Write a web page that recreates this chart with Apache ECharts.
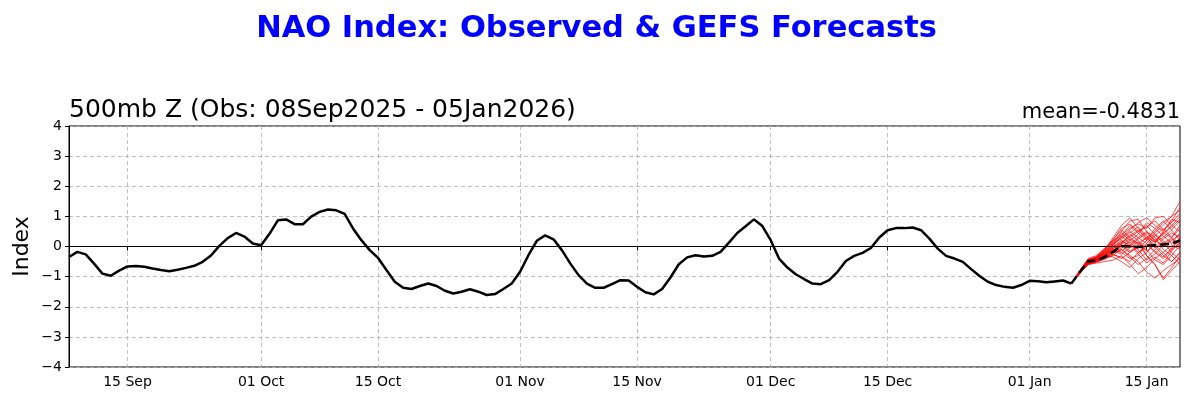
<!DOCTYPE html>
<html lang="en">
<head>
    <meta charset="UTF-8">
    <title>NAO Index</title>
    <script src="https://cdn.jsdelivr.net/npm/echarts@6/dist/echarts.min.js"></script>
    <style>
        html, body { margin: 0; padding: 0; background: #fff; }
        #chart { width: 1193px; height: 408px; }
    </style>
</head>
<body>
<div id="chart"></div>
<script>
    // day 0 = 08 Sep 2025, one value per day
    var obsStart = 0;
    var obsValues = [
        -0.35, -0.18, -0.26, -0.57, -0.90, -0.97, -0.80, -0.66, -0.65, -0.67,
        -0.73, -0.78, -0.82, -0.77, -0.71, -0.64, -0.51, -0.30, 0.02, 0.28,
        0.45, 0.33, 0.10, 0.04, 0.42, 0.87, 0.90, 0.74, 0.74, 0.99,
        1.15, 1.23, 1.20, 1.08, 0.60, 0.21, -0.12, -0.38, -0.78, -1.17,
        -1.37, -1.41, -1.31, -1.23, -1.31, -1.47, -1.56, -1.50, -1.42, -1.50,
        -1.61, -1.58, -1.41, -1.23, -0.84, -0.29, 0.19, 0.37, 0.24, -0.12,
        -0.56, -0.95, -1.23, -1.37, -1.37, -1.25, -1.12, -1.13, -1.34, -1.52,
        -1.59, -1.41, -1.03, -0.59, -0.36, -0.29, -0.33, -0.31, -0.18, 0.13,
        0.45, 0.67, 0.90, 0.68, 0.21, -0.40, -0.70, -0.92, -1.08, -1.23,
        -1.25, -1.12, -0.84, -0.48, -0.31, -0.21, -0.05, 0.30, 0.54, 0.61,
        0.61, 0.63, 0.54, 0.26, -0.07, -0.31, -0.40, -0.51, -0.75, -0.98,
        -1.17, -1.28, -1.34, -1.37, -1.28, -1.14, -1.15, -1.19, -1.16, -1.13,
        -1.23
    ];

    // GEFS forecast: starts on 05 Jan (day 120)
    var fcstStart = 120;
    var gefsMean = [-1.23, -0.85, -0.50, -0.45, -0.35, -0.18, 0.02, 0.00, -0.02, 0.02, 0.05, 0.07, 0.10, 0.20];
    var gefsMembers = [
        [-1.23, -0.90, -0.45, -0.35, -0.10, 0.30, 0.70, 0.95, 0.60, 0.30, 0.50, 0.80, 1.00, 1.50],
        [-1.23, -0.85, -0.55, -0.50, -0.40, -0.20, 0.10, 0.40, 0.20, -0.30, -0.60, -1.05, -0.70, -0.30],
        [-1.23, -0.80, -0.40, -0.30, -0.05, 0.20, 0.35, 0.10, -0.20, 0.00, 0.35, 0.60, 0.30, 0.70],
        [-1.23, -0.88, -0.60, -0.55, -0.50, -0.45, -0.30, -0.60, -0.90, -0.70, -0.40, -0.20, -0.50, -0.20],
        [-1.23, -0.82, -0.50, -0.40, -0.20, 0.10, 0.50, 0.85, 0.90, 0.50, 0.20, 0.40, 0.70, 1.00],
        [-1.23, -0.86, -0.48, -0.42, -0.30, -0.10, -0.20, -0.40, -0.30, 0.10, 0.40, 0.20, -0.10, 0.30],
        [-1.23, -0.90, -0.58, -0.50, -0.35, -0.15, 0.15, 0.30, 0.50, 0.70, 0.40, 0.10, 0.30, 0.60],
        [-1.23, -0.84, -0.52, -0.45, -0.25, 0.00, -0.10, -0.30, -0.50, -0.85, -1.05, -0.80, -0.60, -0.40],
        [-1.23, -0.80, -0.42, -0.38, -0.20, 0.05, 0.30, 0.50, 0.30, 0.10, -0.20, -0.40, -0.10, 0.10],
        [-1.23, -0.87, -0.55, -0.45, -0.30, -0.35, -0.50, -0.70, -0.40, -0.20, 0.10, 0.50, 0.90, 0.80],
        [-1.23, -0.83, -0.46, -0.40, -0.15, 0.15, 0.40, 0.60, 0.75, 0.60, 0.95, 1.00, 0.70, 0.50],
        [-1.23, -0.89, -0.60, -0.52, -0.40, -0.30, -0.05, 0.20, 0.05, -0.30, -0.60, -1.10, -0.80, -0.50],
        [-1.23, -0.85, -0.50, -0.48, -0.30, 0.00, 0.20, 0.00, 0.25, 0.45, 0.20, 0.00, 0.20, 0.40],
        [-1.23, -0.86, -0.53, -0.43, -0.22, -0.05, 0.05, -0.15, -0.05, 0.20, 0.60, 0.85, 0.55, 0.20],
        [-1.23, -0.81, -0.44, -0.36, -0.12, 0.25, 0.55, 0.30, 0.10, 0.30, 0.00, -0.30, -0.50, -0.20],
        [-1.23, -0.88, -0.57, -0.47, -0.38, -0.25, -0.40, -0.20, 0.00, -0.10, -0.45, -0.60, -0.30, 0.05],
        [-1.23, -0.84, -0.49, -0.40, -0.18, 0.10, 0.25, 0.45, 0.65, 0.35, 0.15, 0.30, 0.55, 0.85],
        [-1.23, -0.87, -0.54, -0.46, -0.28, -0.10, 0.00, 0.15, -0.10, -0.45, -0.25, 0.05, 0.25, 0.10],
        [-1.23, -0.82, -0.47, -0.37, -0.16, 0.05, 0.35, 0.70, 0.45, 0.20, 0.45, 0.70, 1.00, 1.20],
        [-1.23, -0.86, -0.51, -0.44, -0.32, -0.20, -0.15, 0.05, 0.30, 0.50, 0.30, -0.10, -0.30, -0.60],
        [-1.23, -0.83, -0.45, -0.33, -0.08, 0.22, 0.60, 0.75, 0.50, 0.65, 0.85, 0.55, 0.80, 1.10],
        [-1.23, -0.88, -0.56, -0.49, -0.36, -0.22, -0.10, -0.35, -0.60, -0.40, -0.10, 0.15, -0.20, -0.45],
        [-1.23, -0.84, -0.48, -0.41, -0.24, 0.02, 0.12, 0.35, 0.55, 0.25, -0.05, 0.25, 0.45, 0.30],
        [-1.23, -0.86, -0.52, -0.44, -0.26, -0.08, 0.18, 0.05, -0.25, -0.55, -0.35, -0.55, -0.15, 0.15],
        [-1.23, -0.81, -0.43, -0.34, -0.10, 0.18, 0.45, 0.20, 0.40, 0.80, 0.60, 0.35, 0.10, 0.45],
        [-1.23, -0.87, -0.55, -0.47, -0.33, -0.15, -0.25, -0.05, 0.15, 0.00, 0.20, 0.45, 0.65, 0.90],
        [-1.23, -0.85, -0.50, -0.42, -0.27, -0.05, 0.08, 0.25, 0.10, -0.15, 0.05, -0.20, 0.05, -0.10],
        [-1.23, -0.89, -0.58, -0.51, -0.42, -0.28, -0.35, -0.50, -0.20, 0.05, -0.15, -0.35, -0.05, 0.25],
        [-1.23, -0.82, -0.46, -0.39, -0.14, 0.12, 0.30, 0.55, 0.80, 0.95, 0.70, 0.50, 0.85, 1.30],
        [-1.23, -0.86, -0.50, -0.43, -0.30, -0.12, 0.00, -0.20, 0.05, 0.30, 0.15, 0.45, 0.30, -0.05]
    ];

    var xTickDays = [7, 23, 37, 54, 68, 84, 98, 115, 129];
    var xTickLabels = ['15 Sep', '01 Oct', '15 Oct', '01 Nov', '15 Nov', '01 Dec', '15 Dec', '01 Jan', '15 Jan'];

    function toPairs(start, vals) {
        return vals.map(function (v, i) { return [start + i, v]; });
    }

    var series = [];
    series.push({
        name: 'obs',
        type: 'line',
        data: toPairs(obsStart, obsValues),
        symbol: 'none',
        z: 3,
        lineStyle: {color: '#000', width: 2.5},
        markLine: {
            silent: true,
            symbol: 'none',
            label: {show: false},
            lineStyle: {color: '#000', width: 0.8, type: 'solid'},
            data: [{yAxis: 0}]
        }
    });
    gefsMembers.forEach(function (m, k) {
        series.push({
            name: 'mem' + k,
            type: 'line',
            data: toPairs(fcstStart, m),
            symbol: 'none',
            z: 4,
            lineStyle: {color: '#ff0000', width: 0.7}
        });
    });
    series.push({
        name: 'mean',
        type: 'line',
        data: toPairs(fcstStart, gefsMean),
        symbol: 'none',
        z: 5,
        lineStyle: {color: '#000', width: 2.5, type: [9, 4]}
    });

    var chart = echarts.init(document.getElementById('chart'));
    var option = {
        animation: false,
        textStyle: {fontFamily: 'DejaVu Sans'},
        title: [
            {
                text: 'NAO Index: Observed & GEFS Forecasts',
                left: 'center',
                top: 9,
                textStyle: {color: '#0000ff', fontSize: 30.5, fontWeight: 'bold', fontFamily: 'DejaVu Sans'}
            },
            {
                text: '500mb Z (Obs: 08Sep2025 - 05Jan2026)',
                left: 64,
                top: 93,
                textStyle: {color: '#000', fontSize: 25, fontWeight: 'normal', fontFamily: 'DejaVu Sans'}
            },
            {
                text: 'mean=-0.4831',
                right: 8,
                top: 97,
                textStyle: {color: '#000', fontSize: 21, fontWeight: 'normal', fontFamily: 'DejaVu Sans'}
            }
        ],
        grid: {
            left: 69, right: 13, top: 126, bottom: 41,
            outerBoundsMode: 'none',
            show: true, borderColor: '#000', borderWidth: 1
        },
        xAxis: {
            type: 'value',
            min: 0,
            max: 133,
            axisLine: {show: true, lineStyle: {color: '#000', width: 1}},
            axisTick: {show: true, customValues: xTickDays, length: 4, lineStyle: {color: '#000'}},
            axisLabel: {
                customValues: xTickDays,
                color: '#000',
                fontSize: 14,
                margin: 8,
                formatter: function (v) {
                    var i = xTickDays.indexOf(v);
                    return i >= 0 ? xTickLabels[i] : '';
                }
            },
            splitLine: {show: true, lineStyle: {color: '#b0b0b0', type: [4, 3], width: 0.8}}
        },
        yAxis: {
            type: 'value',
            min: -4,
            max: 4,
            interval: 1,
            name: 'Index',
            nameLocation: 'middle',
            nameGap: 36,
            nameMoveOverlap: false,
            nameTextStyle: {color: '#000', fontSize: 22},
            axisLine: {show: true, lineStyle: {color: '#000', width: 1}},
            axisTick: {show: true, length: 4, lineStyle: {color: '#000'}},
            axisLabel: {
                color: '#000',
                fontSize: 14,
                margin: 7,
                formatter: function (v) { return String(v).replace('-', '\u2212'); }
            },
            splitLine: {show: true, lineStyle: {color: '#b0b0b0', type: [4, 3], width: 0.8}}
        },
        series: series
    };
    chart.setOption(option);
</script>
</body>
</html>
